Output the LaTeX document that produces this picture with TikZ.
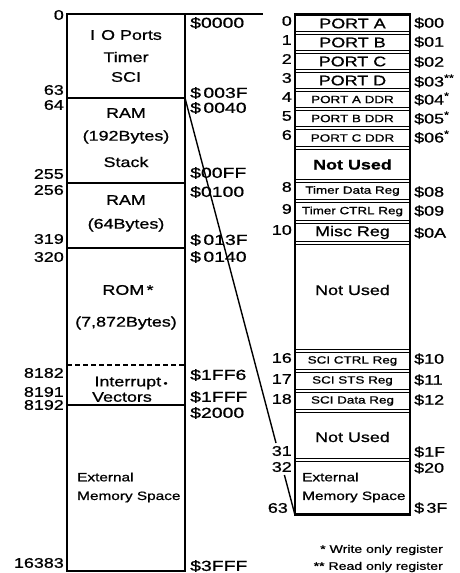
\documentclass[tikz,border=0pt]{standalone}
\usepackage{fontspec}
\setmainfont{Liberation Sans}[FakeStretch=1.28,FakeBold=0.9]
\newfontfamily\addrfont{Liberation Sans}[FakeStretch=1.34,FakeBold=0.9]
\begin{document}
\begin{tikzpicture}[x=1pt,y=-1pt,
  frame/.style={line width=2.6pt},
  bnd/.style={line width=2.2pt},
  diag/.style={line width=1.4pt},
  big/.style={inner sep=0pt, font=\fontsize{14}{16}\selectfont},
  mid/.style={inner sep=0pt, font=\fontsize{12}{14}\selectfont},
  small/.style={font=\fontsize{10.5}{12}\selectfont},
  lnum/.style={inner sep=0pt, anchor=east, font=\fontsize{14}{16}\selectfont},
  laddr/.style={inner sep=0pt, anchor=west, font=\addrfont\fontsize{14.5}{16}\selectfont},
  raddr/.style={inner sep=0pt, anchor=west, font=\fontsize{14}{16}\selectfont},
  reg/.style={draw, line width=1.5pt, minimum width=115pt, inner sep=0pt, font=\fontsize{14}{16}\selectfont},
  note/.style={inner sep=0pt, anchor=east, font=\fontsize{11}{13}\selectfont},
]
\useasboundingbox (0,0) rectangle (460,573);

% ---------- left column ----------
\draw[frame] (67,14) rectangle (185,571);
\draw[frame] (185,14) -- (263,14);
\draw[bnd] (67,98) -- (185,98);
\draw[bnd] (67,183) -- (185,183);
\draw[bnd] (67,248) -- (185,248);
\draw[bnd, dash pattern=on 5pt off 3pt] (67,365) -- (185,365);
\draw[bnd] (67,405) -- (185,405);

\node[big] (io)  at (126,35) {I\hspace{6pt}O Ports};
\node[big] (tim) at (126,57) {Timer};
\node[big] (sci) at (126,77) {SCI};
\node[big] (ram1) at (126,113) {RAM};
\node[big] (ram1b) at (126,137) {(192Bytes)};
\node[big] (stk) at (126,162) {Stack};
\node[big] (ram2) at (126,200) {RAM};
\node[big] (ram2b) at (126,225) {(64Bytes)};
\node[big] (rom) at (128,290) {ROM\,*};
\node[big] (romb) at (126,323) {(7,872Bytes)};
\node[big] (intr) at (131,383) {Interrupt\,{\fontsize{9}{9}\selectfont •}};
\node[big] (vec) at (122,397) {Vectors};
\node[mid, anchor=west] (ext1) at (77,477) {External};
\node[mid, anchor=west] (ext2) at (77,497) {Memory Space};

\node[lnum] (n0) at (64,15) {0};
\node[lnum] (n63) at (64,90) {63};
\node[lnum] (n64) at (64,105) {64};
\node[lnum] (n255) at (64,174) {255};
\node[lnum] (n256) at (64,190) {256};
\node[lnum] (n319) at (64,239) {319};
\node[lnum] (n320) at (64,257) {320};
\node[lnum] (n8182) at (64,373) {8182};
\node[lnum] (n8191) at (64,392) {8191};
\node[lnum] (n8192) at (64,405) {8192};
\node[lnum] (n16383) at (64,563) {16383};

\node[laddr] (a0000) at (190,23) {\$0000};
\node[laddr] (a003F) at (190,93) {\$\,003F};
\node[laddr] (a0040) at (190,108) {\$\,0040};
\node[laddr] (a00FF) at (190,173) {\$00FF};
\node[laddr] (a0100) at (190,192) {\$0100};
\node[laddr] (a013F) at (190,240) {\$\,013F};
\node[laddr] (a0140) at (190,257) {\$\,0140};
\node[laddr] (a1FF6) at (190,375) {\$1FF6};
\node[laddr] (a1FFF) at (190,397) {\$1FFF};
\node[laddr] (a2000) at (190,413) {\$2000};
\node[laddr] (a3FFF) at (190,566) {\$3FFF};

% ---------- right column ----------
\draw[frame] (295,14) rectangle (410,515);
\node[reg, minimum height=15.6pt] (r0) at (352.5,23.5) {PORT A};
\node[reg, minimum height=15.6pt] (r1) at (352.5,42.5) {PORT B};
\node[reg, minimum height=15.6pt] (r2) at (352.5,61.5) {PORT C};
\node[reg, minimum height=15.6pt] (r3) at (352.5,80.5) {PORT D};
\node[reg, small, minimum height=15.6pt] (r4) at (352.5,99.5) {PORT A DDR};
\node[reg, small, minimum height=15.6pt] (r5) at (352.5,118.5) {PORT B DDR};
\node[reg, small, minimum height=16.6pt] (r6) at (352.5,138) {PORT C DDR};
\node[reg, minimum height=29.6pt, font=\fontsize{14}{16}\selectfont\bfseries] (r7) at (352.5,164.5) {Not Used};
\node[reg, small, minimum height=16.6pt] (r8) at (352.5,191) {Timer Data Reg};
\node[reg, small, minimum height=17.6pt] (r9) at (352.5,211.5) {Timer CTRL Reg};
\node[reg, minimum height=17.6pt] (r10) at (352.5,232.5) {Misc Reg};
\node[reg, minimum height=104.6pt] (r11) at (352.5,297) {};
\node[big] (r11t) at (352.5,290) {Not Used};
\node[reg, small, minimum height=16.6pt] (r16) at (352.5,361) {SCI CTRL Reg};
\node[reg, small, minimum height=16.6pt] (r17) at (352.5,381) {SCI STS Reg};
\node[reg, small, minimum height=16.6pt] (r18) at (352.5,401) {SCI Data Reg};
\node[reg, minimum height=45.6pt] (r19) at (352.5,435.5) {};
\node[big] (r19t) at (352.5,437) {Not Used};
\node[reg, minimum height=51.6pt] (r32) at (352.5,487.5) {};
\node[mid, anchor=west] (rx1) at (302,477) {External};
\node[mid, anchor=west] (rx2) at (302,497) {Memory Space};

\node[lnum] (m0) at (292,21) {0};
\node[lnum] (m1) at (292,40) {1};
\node[lnum] (m2) at (292,59) {2};
\node[lnum] (m3) at (292,78) {3};
\node[lnum] (m4) at (292,97) {4};
\node[lnum] (m5) at (292,116) {5};
\node[lnum] (m6) at (292,135) {6};
\node[lnum] (m8) at (292,187) {8};
\node[lnum] (m9) at (292,209) {9};
\node[lnum] (m10) at (292,230) {10};
\node[lnum] (m16) at (292,358) {16};
\node[lnum] (m17) at (292,379) {17};
\node[lnum] (m18) at (292,399) {18};
\node[lnum] (m31) at (292,451) {31};
\node[lnum] (m32) at (292,467) {32};
\node[lnum] (m63) at (288,508) {63};

\node[raddr] (b00) at (414,23) {\$00};
\node[raddr] (b01) at (414,42) {\$01};
\node[raddr] (b02) at (414,62) {\$02};
\node[raddr] (b03) at (414,81) {\$03\textsuperscript{**}};
\node[raddr] (b04) at (414,99) {\$04\textsuperscript{*}};
\node[raddr] (b05) at (414,118) {\$05\textsuperscript{*}};
\node[raddr] (b06) at (414,137) {\$06\textsuperscript{*}};
\node[raddr] (b08) at (414,192) {\$08};
\node[raddr] (b09) at (414,211) {\$09};
\node[raddr] (b0A) at (414,233) {\$0A};
\node[raddr] (b10) at (414,359) {\$10};
\node[raddr] (b11) at (414,380) {\$11};
\node[raddr] (b12) at (414,400) {\$12};
\node[raddr] (b1F) at (414,452) {\$1F};
\node[raddr] (b20) at (414,468) {\$20};
\node[raddr] (b3F) at (414,508) {\$\,3F};

% ---------- expansion line ----------
\coordinate (d1) at (185,98);
\coordinate (d2) at (276,443);
\coordinate (d3) at (284.4,475);
\coordinate (d4) at (295,515);
\draw[diag] (d1) -- (d2);
\draw[diag] (d3) -- (d4);

% ---------- notes ----------
\node[note] (w) at (443,550) {* Write only register};
\node[note] (r) at (443,567) {** Read only register};
\end{tikzpicture}
\end{document}
